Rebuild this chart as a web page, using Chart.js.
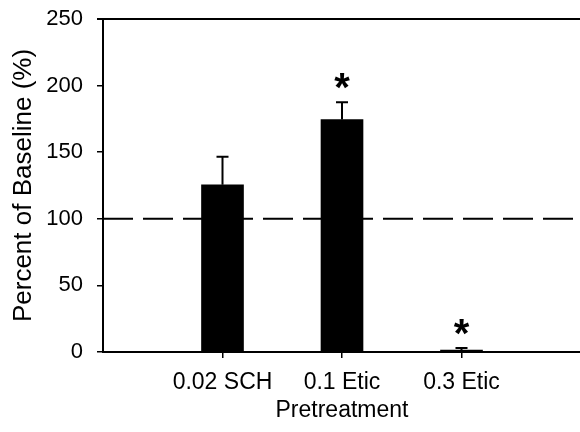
<!DOCTYPE html>
<html>
<head>
<meta charset="utf-8">
<script src="https://cdn.jsdelivr.net/npm/chart.js@4"></script>
<style>
  html, body { margin: 0; padding: 0; background: #fff; overflow: hidden; }
  #wrap { width: 584px; height: 432px; }
</style>
</head>
<body>
<div id="wrap"><canvas id="chart"></canvas></div>
<script>
// data
const categories = ['', '0.02 SCH', '0.1 Etic', '0.3 Etic', ''];
const means = [null, 125.5, 174.5, 1.5, null];
const errors = [null, 21, 13, 1.5, null];
const significant = [false, false, true, true, false];
const baseline = 100;
const yTicks = [0, 50, 100, 150, 200, 250];

const FONT = 'Liberation Sans, Arial, Helvetica, sans-serif';

const extras = {
  id: 'extras',
  beforeDatasetsDraw(chart) {
    const ctx = chart.ctx;
    const area = chart.chartArea;
    const y = chart.scales.y.getPixelForValue(baseline);
    ctx.save();
    ctx.strokeStyle = '#000';
    ctx.lineWidth = 2;
    ctx.setLineDash([30, 10]);
    ctx.beginPath();
    ctx.moveTo(area.left, y);
    ctx.lineTo(area.right, y);
    ctx.stroke();
    ctx.setLineDash([]);
    // top frame line
    ctx.beginPath();
    ctx.moveTo(area.left - 6, area.top);
    ctx.lineTo(area.right, area.top);
    ctx.stroke();
    ctx.restore();
  },
  afterDatasetsDraw(chart) {
    const ctx = chart.ctx;
    const meta = chart.getDatasetMeta(0);
    const ys = chart.scales.y;
    ctx.save();
    ctx.strokeStyle = '#000';
    ctx.fillStyle = '#000';
    ctx.lineWidth = 2;
    means.forEach((m, i) => {
      if (m === null) return;
      const x = meta.data[i].x;
      const top = ys.getPixelForValue(m);
      const cap = ys.getPixelForValue(m + errors[i]);
      ctx.beginPath();
      ctx.moveTo(x, top);
      ctx.lineTo(x, cap);
      ctx.moveTo(x - 6, cap);
      ctx.lineTo(x + 6, cap);
      ctx.stroke();
      if (significant[i]) {
        ctx.font = 'bold 40px ' + FONT;
        ctx.textAlign = 'center';
        ctx.textBaseline = 'alphabetic';
        ctx.fillText('*', x, cap - 1);
      }
    });
    ctx.restore();
  }
};

new Chart(document.getElementById('chart'), {
  type: 'bar',
  data: {
    labels: categories,
    datasets: [{
      data: means,
      backgroundColor: '#000',
      borderWidth: 0,
      barThickness: 42
    }]
  },
  options: {
    responsive: true,
    maintainAspectRatio: false,
    animation: false,
    layout: { padding: { top: 19, right: 3, left: 0, bottom: 0 } },
    plugins: { legend: { display: false }, tooltip: { enabled: false } },
    scales: {
      x: {
        offset: false,
        afterFit(scale) {
          scale.height = 80;
          scale.paddingLeft = 0;
          scale.paddingRight = 0;
        },
        border: { color: '#000', width: 2 },
        grid: {
          offset: false,
          drawOnChartArea: false,
          tickLength: 6,
          lineWidth: 1.5,
          color: (c) => (c.index === 0 || c.index === categories.length - 1) ? 'rgba(0,0,0,0)' : '#000'
        },
        ticks: { color: '#000', padding: 11, maxRotation: 0, autoSkip: false, font: { family: FONT, size: 23 } },
        title: { display: true, text: 'Pretreatment', color: '#000', font: { family: FONT, size: 23 }, padding: { top: 0, bottom: 8 } }
      },
      y: {
        min: 0,
        max: 250,
        afterFit(scale) {
          scale.width = 103;
          scale.paddingTop = 0;
          scale.paddingBottom = 0;
        },
        afterBuildTicks(scale) { scale.ticks = yTicks.map(v => ({ value: v })); },
        border: { color: '#000', width: 2 },
        grid: { drawOnChartArea: false, tickLength: 6, lineWidth: 1.5, color: '#000' },
        ticks: { color: '#000', padding: 14, font: { family: FONT, size: 22 } },
        title: { display: true, text: 'Percent of Baseline (%)', color: '#000', font: { family: FONT, size: 26 }, padding: { top: 8, bottom: 0 } }
      }
    }
  },
  plugins: [extras]
});
</script>
</body>
</html>
